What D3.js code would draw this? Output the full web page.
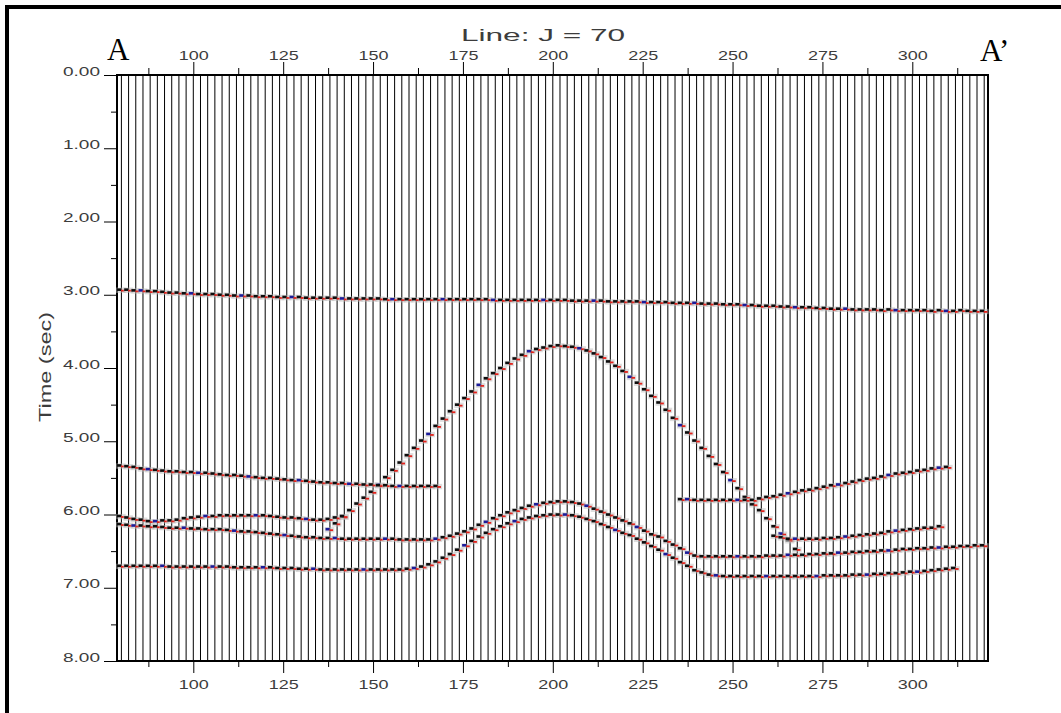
<!DOCTYPE html>
<html>
<head>
<meta charset="utf-8">
<script src="https://cdn.jsdelivr.net/npm/d3@7"></script>
<style>
  body { margin: 0; background: #fff; }
  svg { display: block; }
</style>
</head>
<body>
<svg id="chart" width="1061" height="713"></svg>
<script>
// ---- Axis ticks -------------------------------------------------------
const xTicksMajor = [100, 125, 150, 175, 200, 225, 250, 275, 300];
const xTicksMinor = [87.5, 112.5, 137.5, 162.5, 187.5, 212.5, 237.5, 262.5, 287.5, 312.5];
const yTicksMajor = [0, 1, 2, 3, 4, 5, 6, 7, 8];
const yTickLabels = ["0.00", "1.00", "2.00", "3.00", "4.00", "5.00", "6.00", "7.00", "8.00"];
const yTicksMinor = [0.5, 1.5, 2.5, 3.5, 4.5, 5.5, 6.5, 7.5];

// Trace positions (one trace every 2 CDPs)
const traceFirst = 80, traceLast = 320, traceStep = 2;

// ---- Picked horizons: first trace + two-way time (s) per trace -------
const h1Start = 80;
const h1Times = [
  2.94,2.94,2.95,2.95,2.96,2.96,2.97,2.98,2.98,2.99,
  2.99,3.00,3.00,3.00,3.01,3.01,3.02,3.02,3.02,3.03,
  3.03,3.03,3.04,3.04,3.04,3.04,3.05,3.05,3.05,3.05,
  3.05,3.06,3.06,3.06,3.06,3.06,3.06,3.07,3.07,3.07,
  3.07,3.07,3.07,3.07,3.07,3.07,3.07,3.07,3.07,3.07,
  3.07,3.07,3.08,3.08,3.08,3.08,3.08,3.08,3.08,3.08,
  3.08,3.08,3.08,3.09,3.09,3.09,3.09,3.09,3.10,3.10,
  3.10,3.10,3.10,3.11,3.11,3.11,3.11,3.12,3.12,3.12,
  3.12,3.13,3.13,3.13,3.14,3.14,3.14,3.15,3.15,3.16,
  3.16,3.16,3.17,3.17,3.18,3.18,3.18,3.19,3.19,3.20,
  3.20,3.20,3.21,3.21,3.21,3.21,3.22,3.21,3.22,3.22,
  3.22,3.22,3.22,3.23,3.22,3.23,3.23,3.22,3.23,3.23,
  3.23
];

// Dome-shaped event
const h2Start = 138;
const h2Times = [
  6.21,6.13,6.04,5.95,5.86,5.78,5.70,5.60,5.50,5.40,
  5.30,5.20,5.10,5.00,4.91,4.80,4.70,4.60,4.51,4.42,
  4.33,4.24,4.15,4.08,4.01,3.94,3.88,3.83,3.78,3.75,
  3.73,3.71,3.70,3.71,3.72,3.74,3.77,3.81,3.86,3.92,
  3.98,4.05,4.13,4.21,4.30,4.39,4.48,4.58,4.69,4.79,
  4.89,5.00,5.10,5.21,5.32,5.43,5.54,5.65,5.77,5.87,
  5.95,6.06,6.17,6.27,6.36,6.48
];

// Shallow event, left segment
const h3aStart = 80;
const h3aTimes = [
  5.34,5.35,5.36,5.38,5.39,5.40,5.41,5.42,5.42,5.43,
  5.43,5.44,5.44,5.45,5.46,5.47,5.47,5.48,5.49,5.50,
  5.51,5.51,5.52,5.53,5.54,5.54,5.55,5.56,5.57,5.57,
  5.58,5.58,5.59,5.59,5.60,5.60,5.61,5.61,5.62,5.62,
  5.62,5.62,5.62,5.62,5.62
];

// Shallow event, right segment
const h3bStart = 236;
const h3bTimes = [
  5.80,5.80,5.81,5.81,5.81,5.81,5.81,5.81,5.81,5.81,
  5.81,5.79,5.77,5.76,5.74,5.72,5.70,5.68,5.67,5.65,
  5.63,5.61,5.60,5.58,5.56,5.54,5.52,5.51,5.49,5.47,
  5.45,5.44,5.43,5.41,5.40,5.38,5.37,5.36
];

// Short event joining the dome flank
const h4Start = 80;
const h4Times = [
  6.03,6.05,6.07,6.08,6.10,6.10,6.09,6.09,6.08,6.06,
  6.05,6.04,6.03,6.03,6.02,6.02,6.02,6.02,6.02,6.02,
  6.02,6.03,6.04,6.05,6.05,6.06,6.07,6.08,6.08,6.07,
  6.05,6.03
];

// Upper anticline
const h5Start = 80;
const h5Times = [
  6.14,6.15,6.16,6.16,6.17,6.17,6.18,6.19,6.19,6.19,
  6.20,6.20,6.21,6.21,6.21,6.22,6.23,6.24,6.24,6.25,
  6.26,6.27,6.28,6.29,6.30,6.31,6.32,6.32,6.33,6.33,
  6.33,6.34,6.34,6.34,6.34,6.34,6.34,6.34,6.34,6.35,
  6.35,6.35,6.35,6.35,6.34,6.32,6.30,6.27,6.24,6.20,
  6.15,6.11,6.06,6.02,5.98,5.95,5.92,5.89,5.87,5.85,
  5.84,5.83,5.83,5.84,5.86,5.89,5.93,5.97,6.01,6.05,
  6.09,6.13,6.18,6.23,6.28,6.31,6.37,6.42,6.47,6.53,
  6.57,6.58,6.58,6.58,6.58,6.58,6.58,6.58,6.58,6.58,
  6.57,6.57,6.57,6.56,6.56,6.56,6.55,6.55,6.54,6.54,
  6.53,6.53,6.52,6.52,6.51,6.51,6.50,6.50,6.49,6.48,
  6.48,6.47,6.47,6.46,6.46,6.45,6.45,6.44,6.44,6.43,
  6.43
];

// Lower anticline
const h6Start = 80;
const h6Times = [
  6.71,6.71,6.71,6.71,6.71,6.71,6.71,6.72,6.72,6.72,
  6.72,6.72,6.72,6.72,6.72,6.72,6.73,6.73,6.73,6.73,
  6.73,6.73,6.74,6.74,6.74,6.75,6.75,6.75,6.76,6.76,
  6.76,6.76,6.76,6.76,6.76,6.76,6.76,6.76,6.76,6.76,
  6.75,6.74,6.72,6.69,6.65,6.60,6.55,6.49,6.43,6.37,
  6.31,6.26,6.21,6.17,6.13,6.10,6.07,6.05,6.03,6.02,
  6.01,6.01,6.01,6.02,6.04,6.07,6.10,6.14,6.18,6.22,
  6.26,6.29,6.34,6.39,6.44,6.49,6.55,6.60,6.66,6.71,
  6.77,6.80,6.83,6.84,6.85,6.85,6.85,6.85,6.85,6.85,
  6.85,6.85,6.85,6.85,6.85,6.85,6.85,6.85,6.84,6.84,
  6.84,6.84,6.83,6.83,6.83,6.82,6.82,6.81,6.81,6.80,
  6.79,6.79,6.78,6.77,6.76,6.75,6.74
];

// Event right of the dome termination
const h7Start = 262;
const h7Times = [
  6.30,6.32,6.34,6.34,6.34,6.34,6.34,6.33,6.33,6.32,
  6.31,6.30,6.29,6.28,6.27,6.26,6.24,6.23,6.22,6.21,
  6.20,6.19,6.19,6.17
];

const horizons = [
  [h1Start, h1Times], [h2Start, h2Times], [h3aStart, h3aTimes], [h3bStart, h3bTimes],
  [h4Start, h4Times], [h5Start, h5Times], [h6Start, h6Times], [h7Start, h7Times]
];

// ---- Layout -----------------------------------------------------------
const plot = { left: 117, right: 988, top: 75, bottom: 661 };
const x = d3.scaleLinear().domain([100, 300]).range([193.3, 912.3]);
const y = d3.scaleLinear().domain([0, 8]).range([plot.top, plot.bottom]);

const svg = d3.select("#chart");
const labelFont = "'Liberation Sans', Arial, sans-serif";
const labelColor = "#3c3c3c";

// Outer frame (top and left edges)
svg.append("path")
  .attr("d", "M7,713 V7 H1061")
  .attr("fill", "none").attr("stroke", "#000").attr("stroke-width", 4);

// Trace lines
const traces = d3.range(traceFirst, traceLast + 1, traceStep);
svg.append("g").selectAll("line").data(traces).join("line")
  .attr("x1", d => x(d)).attr("x2", d => x(d))
  .attr("y1", plot.top).attr("y2", plot.bottom)
  .attr("stroke", "#000").attr("stroke-width", 1);

// Plot frame
svg.append("rect")
  .attr("x", plot.left).attr("y", plot.top)
  .attr("width", plot.right - plot.left).attr("height", plot.bottom - plot.top)
  .attr("fill", "none").attr("stroke", "#000").attr("stroke-width", 2);

// ---- Axes -------------------------------------------------------------
function styleAxis(g) {
  g.select(".domain").remove();
  g.selectAll(".tick line").attr("stroke", "#000").attr("stroke-width", 1);
}
// Wide, light stroke-font look: stretch glyphs to the set width
function styleLabels(sel, size, width) {
  sel.attr("font-family", labelFont).attr("font-size", size).attr("fill", labelColor)
    .attr("textLength", width).attr("lengthAdjust", "spacingAndGlyphs");
}

// Top
svg.append("g").attr("transform", `translate(0,${plot.top})`)
  .call(d3.axisTop(x).tickValues(xTicksMinor).tickSize(7).tickFormat(""))
  .call(styleAxis);
const topAxis = svg.append("g").attr("transform", `translate(0,${plot.top})`)
  .call(d3.axisTop(x).tickValues(xTicksMajor).tickSize(13).tickFormat(d3.format("d")))
  .call(styleAxis);
topAxis.selectAll("text").attr("y", -15).attr("dy", 0)
  .call(styleLabels, 13.5, 30);

// Bottom
svg.append("g").attr("transform", `translate(0,${plot.bottom})`)
  .call(d3.axisBottom(x).tickValues(xTicksMinor).tickSize(6).tickFormat(""))
  .call(styleAxis);
const bottomAxis = svg.append("g").attr("transform", `translate(0,${plot.bottom})`)
  .call(d3.axisBottom(x).tickValues(xTicksMajor).tickSize(12).tickFormat(d3.format("d")))
  .call(styleAxis);
bottomAxis.selectAll("text").attr("y", 28).attr("dy", 0)
  .call(styleLabels, 13.5, 30);

// Left
svg.append("g").attr("transform", `translate(${plot.left},0)`)
  .call(d3.axisLeft(y).tickValues(yTicksMinor).tickSize(6).tickFormat(""))
  .call(styleAxis);
const leftAxis = svg.append("g").attr("transform", `translate(${plot.left},0)`)
  .call(d3.axisLeft(y).tickValues(yTicksMajor).tickSize(13)
    .tickFormat((d, i) => yTickLabels[i]))
  .call(styleAxis);
leftAxis.selectAll("text").attr("x", -17).attr("dy", 0).attr("text-anchor", "end")
  .call(styleLabels, 12, 37);

// Axis title
svg.append("text")
  .attr("transform", "translate(51,367) rotate(-90)")
  .attr("text-anchor", "middle")
  .call(styleLabels, 16, 110)
  .text("Time (sec)");

// Section title
svg.append("text")
  .attr("x", 543).attr("y", 41).attr("text-anchor", "middle")
  .call(styleLabels, 16, 164)
  .text("Line:  J  =  70");

// Section end labels
svg.append("text")
  .attr("x", 107).attr("y", 60)
  .attr("font-family", "'Liberation Serif', 'Times New Roman', serif").attr("font-size", 31)
  .attr("fill", "#000").text("A");
svg.append("text")
  .attr("x", 980).attr("y", 61)
  .attr("font-family", "'Liberation Serif', 'Times New Roman', serif").attr("font-size", 31)
  .attr("fill", "#000").text("A\u2019");

// ---- Horizon picks: black (or blue) tick plus red tick at each trace ----
const picksG = svg.append("g");
horizons.forEach(([start, times], hi) => {
  const data = times.map((t, i) => ({ trace: start + traceStep * i, t, k: i + hi * 3 }));
  const pick = picksG.append("g").selectAll("g").data(data).join("g")
    .attr("transform", d => `translate(${x(d.trace)},${y(d.t)})`);
  pick.append("rect")
    .attr("x", -5.2).attr("y", -2.8).attr("width", 9.6).attr("height", 5.4)
    .attr("fill", "#bdbdbd").attr("opacity", 0.5);
  pick.append("rect")
    .attr("x", -4.4).attr("y", -2).attr("width", 4.2).attr("height", 2.6)
    .attr("fill", d => (d.k % 7 === 3 ? "#1c1c9a" : "#0d0d0d"));
  pick.append("rect")
    .attr("x", -0.4).attr("y", -0.6).attr("width", 3.6).attr("height", 1.8)
    .attr("fill", "#e3221b");
});
</script>
</body>
</html>
